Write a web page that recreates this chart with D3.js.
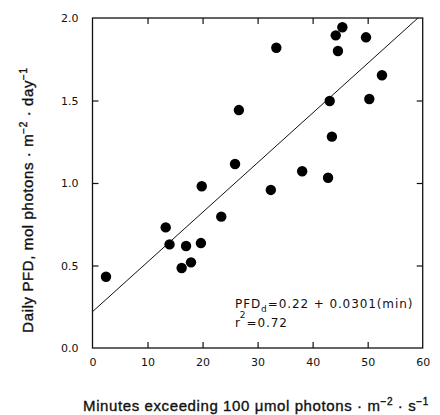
<!DOCTYPE html>
<html><head><meta charset="utf-8">
<script src="https://cdn.jsdelivr.net/npm/d3@7/dist/d3.min.js"></script>
<style>
html,body{margin:0;padding:0;background:#fff;}
svg{display:block;}
text{fill:#111;}
</style></head>
<body>
<svg id="c" width="440" height="415"></svg>
<script>
const minutes = [33.4,44.2,45.4,44.6,49.7,52.6,43.1,50.3,26.6,43.5,25.9,19.85,32.4,38.1,42.8,23.4,13.3,14.0,17.0,19.7,17.9,16.2,2.45];
const pfd     = [1.82,1.895,1.944,1.80,1.883,1.653,1.497,1.509,1.442,1.281,1.115,0.98,0.958,1.071,1.032,0.796,0.731,0.628,0.618,0.636,0.519,0.485,0.432];
const xTicks = [0,10,20,30,40,50,60];
const yTicks = [0.0,0.5,1.0,1.5,2.0];
const fitIntercept = 0.22, fitSlope = 0.0301;

const svg = d3.select("#c");
const x = d3.scaleLinear().domain([0,60]).range([92.5,422.7]);
const y = d3.scaleLinear().domain([0,2]).range([348,18]);
const axisFont = "'DejaVu Sans', sans-serif";
const titleFont = "'Liberation Sans', Arial, sans-serif";

function styleAxis(g, showLabels){
  g.select(".domain").remove();
  g.selectAll(".tick line").attr("stroke","#111").attr("stroke-width",1.2);
  g.selectAll(".tick text").attr("font-family",axisFont).attr("font-size",11).attr("fill","#111");
  if(!showLabels) g.selectAll(".tick text").remove();
}
const innerTicks = [10,20,30,40,50];
const innerY = [0.5,1.0,1.5];
svg.append("g").attr("transform",`translate(0,${y(0)})`)
  .call(d3.axisBottom(x).tickValues(xTicks).tickFormat(d3.format("d")).tickSizeInner(0).tickPadding(10))
  .call(g=>styleAxis(g,true));
svg.append("g").attr("transform",`translate(0,${y(0)})`)
  .call(d3.axisTop(x).tickValues(innerTicks).tickSize(6).tickFormat(""))
  .call(g=>styleAxis(g,false));
svg.append("g").attr("transform",`translate(0,${y(2)})`)
  .call(d3.axisBottom(x).tickValues(innerTicks).tickSize(6).tickFormat(""))
  .call(g=>styleAxis(g,false));
svg.append("g").attr("transform",`translate(${x(0)},0)`)
  .call(d3.axisLeft(y).tickValues(yTicks).tickFormat(d3.format(".1f")).tickSizeInner(0).tickPadding(14))
  .call(g=>styleAxis(g,true));
svg.append("g").attr("transform",`translate(${x(0)},0)`)
  .call(d3.axisRight(y).tickValues(innerY).tickSize(6).tickFormat(""))
  .call(g=>styleAxis(g,false));
svg.append("g").attr("transform",`translate(${x(60)},0)`)
  .call(d3.axisLeft(y).tickValues(innerY).tickSize(6).tickFormat(""))
  .call(g=>styleAxis(g,false));
svg.append("rect").attr("x",x(0)).attr("y",y(2)).attr("width",x(60)-x(0)).attr("height",y(0)-y(2))
  .attr("fill","none").attr("stroke","#111").attr("stroke-width",1.3);

const xEnd = Math.min(60,(2-fitIntercept)/fitSlope);
svg.append("line").attr("x1",x(0)).attr("y1",y(fitIntercept))
  .attr("x2",x(xEnd)).attr("y2",y(fitIntercept+fitSlope*xEnd))
  .attr("stroke","#111").attr("stroke-width",1);

svg.append("g").selectAll("circle").data(minutes.map((m,i)=>[m,pfd[i]])).join("circle")
  .attr("cx",d=>x(d[0])).attr("cy",d=>y(d[1])).attr("r",5.2).attr("fill","#000");

const ann = svg.append("text").attr("x",235).attr("y",308).attr("font-family",axisFont)
  .attr("font-size",12).attr("letter-spacing",0.9);
ann.append("tspan").text("PFD");
ann.append("tspan").attr("dy",4).attr("font-size",9).text("d");
ann.append("tspan").attr("dy",-4).text("=0.22 + 0.0301(min)");
const ann2 = svg.append("text").attr("x",235).attr("y",327).attr("font-family",axisFont)
  .attr("font-size",12).attr("letter-spacing",0.9);
ann2.append("tspan").text("r");
ann2.append("tspan").attr("dy",-9).attr("dx",-1).attr("font-size",9).text("2");
ann2.append("tspan").attr("dy",9).text("=0.72");

const titleStyle = t => t.attr("font-family",titleFont).attr("font-size",15)
  .attr("letter-spacing",0.6).attr("stroke","#111").attr("stroke-width",0.35);
const xt = svg.append("text").attr("x",256).attr("y",411).attr("text-anchor","middle").call(titleStyle);
xt.append("tspan").text("Minutes exceeding 100 μmol photons · m");
xt.append("tspan").attr("dy",-6).attr("font-size",10).text("−2");
xt.append("tspan").attr("dy",6).text(" · s");
xt.append("tspan").attr("dy",-6).attr("font-size",10).text("−1");

const yt = svg.append("text").attr("transform","translate(33,200) rotate(-90)").attr("text-anchor","middle").call(titleStyle);
yt.append("tspan").text("Daily PFD, mol photons · m");
yt.append("tspan").attr("dy",-6).attr("font-size",10).text("−2");
yt.append("tspan").attr("dy",6).text(" · day");
yt.append("tspan").attr("dy",-6).attr("font-size",10).text("−1");
</script>
</body></html>
